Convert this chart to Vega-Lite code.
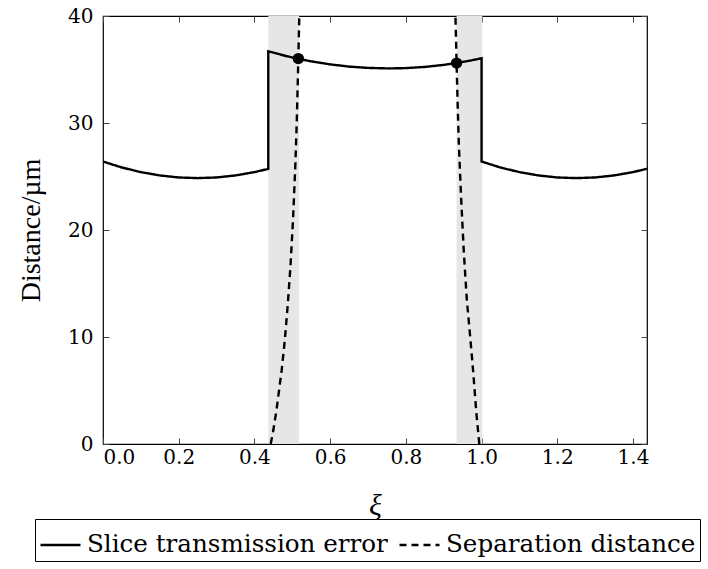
{
  "$schema": "https://vega.github.io/schema/vega-lite/v6.json",
  "width": 544,
  "height": 428,
  "autosize": {"type": "none"},
  "padding": {"left": 103, "top": 16, "right": 61, "bottom": 125},
  "background": "white",
  "config": {
    "view": {"stroke": "black", "strokeWidth": 1.2},
    "axis": {
      "grid": false,
      "domainColor": "black",
      "tickColor": "#444",
      "labelColor": "black",
      "titleColor": "black",
      "labelFontSize": 20,
      "titleFontSize": 28,
      "titleFontWeight": "normal"
    }
  },
  "datasets": {
    "bands": [
      {"a": 0.4366, "b": 0.518},
      {"a": 0.934, "b": 1.002}
    ],
    "curves": [
      {"i": 1, "g": "ste", "s": "Slice transmission error", "xi": 0.0, "d": 26.4},
      {"i": 2, "g": "ste", "s": "Slice transmission error", "xi": 0.05, "d": 25.84},
      {"i": 3, "g": "ste", "s": "Slice transmission error", "xi": 0.1, "d": 25.41},
      {"i": 4, "g": "ste", "s": "Slice transmission error", "xi": 0.15, "d": 25.1},
      {"i": 5, "g": "ste", "s": "Slice transmission error", "xi": 0.2, "d": 24.91},
      {"i": 6, "g": "ste", "s": "Slice transmission error", "xi": 0.25, "d": 24.85},
      {"i": 7, "g": "ste", "s": "Slice transmission error", "xi": 0.3, "d": 24.91},
      {"i": 8, "g": "ste", "s": "Slice transmission error", "xi": 0.35, "d": 25.1},
      {"i": 9, "g": "ste", "s": "Slice transmission error", "xi": 0.4, "d": 25.41},
      {"i": 10, "g": "ste", "s": "Slice transmission error", "xi": 0.4366, "d": 25.71},
      {"i": 11, "g": "ste", "s": "Slice transmission error", "xi": 0.4366, "d": 36.71},
      {"i": 12, "g": "ste", "s": "Slice transmission error", "xi": 0.48, "d": 36.29},
      {"i": 13, "g": "ste", "s": "Slice transmission error", "xi": 0.516, "d": 36.0},
      {"i": 14, "g": "ste", "s": "Slice transmission error", "xi": 0.55, "d": 35.76},
      {"i": 15, "g": "ste", "s": "Slice transmission error", "xi": 0.6, "d": 35.48},
      {"i": 16, "g": "ste", "s": "Slice transmission error", "xi": 0.65, "d": 35.27},
      {"i": 17, "g": "ste", "s": "Slice transmission error", "xi": 0.7, "d": 35.15},
      {"i": 18, "g": "ste", "s": "Slice transmission error", "xi": 0.755, "d": 35.1},
      {"i": 19, "g": "ste", "s": "Slice transmission error", "xi": 0.8, "d": 35.13},
      {"i": 20, "g": "ste", "s": "Slice transmission error", "xi": 0.85, "d": 35.24},
      {"i": 21, "g": "ste", "s": "Slice transmission error", "xi": 0.9, "d": 35.43},
      {"i": 22, "g": "ste", "s": "Slice transmission error", "xi": 0.934, "d": 35.61},
      {"i": 23, "g": "ste", "s": "Slice transmission error", "xi": 0.97, "d": 35.83},
      {"i": 24, "g": "ste", "s": "Slice transmission error", "xi": 1.0, "d": 36.05},
      {"i": 25, "g": "ste", "s": "Slice transmission error", "xi": 1.0, "d": 26.4},
      {"i": 26, "g": "ste", "s": "Slice transmission error", "xi": 1.05, "d": 25.84},
      {"i": 27, "g": "ste", "s": "Slice transmission error", "xi": 1.1, "d": 25.41},
      {"i": 28, "g": "ste", "s": "Slice transmission error", "xi": 1.15, "d": 25.1},
      {"i": 29, "g": "ste", "s": "Slice transmission error", "xi": 1.2, "d": 24.91},
      {"i": 30, "g": "ste", "s": "Slice transmission error", "xi": 1.25, "d": 24.85},
      {"i": 31, "g": "ste", "s": "Slice transmission error", "xi": 1.3, "d": 24.91},
      {"i": 32, "g": "ste", "s": "Slice transmission error", "xi": 1.35, "d": 25.1},
      {"i": 33, "g": "ste", "s": "Slice transmission error", "xi": 1.4, "d": 25.41},
      {"i": 34, "g": "ste", "s": "Slice transmission error", "xi": 1.437, "d": 25.72},
      {"i": 1, "g": "sd1", "s": "Separation distance", "xi": 0.443, "d": 0},
      {"i": 2, "g": "sd1", "s": "Separation distance", "xi": 0.45, "d": 1.3},
      {"i": 3, "g": "sd1", "s": "Separation distance", "xi": 0.458, "d": 3.1},
      {"i": 4, "g": "sd1", "s": "Separation distance", "xi": 0.465, "d": 5.0},
      {"i": 5, "g": "sd1", "s": "Separation distance", "xi": 0.472, "d": 6.9},
      {"i": 6, "g": "sd1", "s": "Separation distance", "xi": 0.48, "d": 9.6},
      {"i": 7, "g": "sd1", "s": "Separation distance", "xi": 0.488, "d": 13.0},
      {"i": 8, "g": "sd1", "s": "Separation distance", "xi": 0.495, "d": 16.5},
      {"i": 9, "g": "sd1", "s": "Separation distance", "xi": 0.502, "d": 21.0},
      {"i": 10, "g": "sd1", "s": "Separation distance", "xi": 0.508, "d": 26.0},
      {"i": 11, "g": "sd1", "s": "Separation distance", "xi": 0.512, "d": 30.3},
      {"i": 12, "g": "sd1", "s": "Separation distance", "xi": 0.516, "d": 36.0},
      {"i": 13, "g": "sd1", "s": "Separation distance", "xi": 0.5185, "d": 40.0},
      {"i": 1, "g": "sd2", "s": "Separation distance", "xi": 0.994, "d": 0},
      {"i": 2, "g": "sd2", "s": "Separation distance", "xi": 0.986, "d": 3.0},
      {"i": 3, "g": "sd2", "s": "Separation distance", "xi": 0.978, "d": 6.7},
      {"i": 4, "g": "sd2", "s": "Separation distance", "xi": 0.97, "d": 10.0},
      {"i": 5, "g": "sd2", "s": "Separation distance", "xi": 0.961, "d": 13.5},
      {"i": 6, "g": "sd2", "s": "Separation distance", "xi": 0.953, "d": 18.0},
      {"i": 7, "g": "sd2", "s": "Separation distance", "xi": 0.946, "d": 23.0},
      {"i": 8, "g": "sd2", "s": "Separation distance", "xi": 0.94, "d": 28.0},
      {"i": 9, "g": "sd2", "s": "Separation distance", "xi": 0.937, "d": 31.5},
      {"i": 10, "g": "sd2", "s": "Separation distance", "xi": 0.934, "d": 35.6},
      {"i": 11, "g": "sd2", "s": "Separation distance", "xi": 0.931, "d": 40.0}
    ],
    "dots": [
      {"xi": 0.516, "d": 36.02},
      {"xi": 0.934, "d": 35.6}
    ]
  },
  "layer": [
    {
      "data": {"name": "bands"},
      "mark": {"type": "rect", "color": "#e6e6e6"},
      "encoding": {
        "x": {
          "field": "a", "type": "quantitative",
          "scale": {"domain": [0, 1.437], "nice": false, "zero": false},
          "axis": {
            "orient": "bottom", "title": "ξ", "titleFontStyle": "italic",
            "titleFont": "Liberation Serif",
            "titleFontSize": 30, "titlePadding": 23,
            "values": [0, 0.2, 0.4, 0.6, 0.8, 1.0, 1.2, 1.4],
            "format": ".1f", "tickSize": -6, "labelPadding": 9,
            "labelFont": "DejaVu Serif", "domain": false
          }
        },
        "x2": {"field": "b"},
        "y": {
          "datum": 0, "type": "quantitative",
          "scale": {"domain": [0, 40], "nice": false},
          "axis": {
            "orient": "left", "title": "Distance/µm", "titleFontSize": 28,
            "titleFont": "Liberation Serif",
            "values": [0, 10, 20, 30, 40], "tickSize": -6, "labelPadding": 16,
            "labelFont": "DejaVu Serif", "titlePadding": 22, "domain": false
          }
        },
        "y2": {"datum": 40}
      }
    },
    {
      "data": {"name": "curves"},
      "mark": {"type": "line", "strokeWidth": 2.4, "color": "black", "clip": true},
      "encoding": {
        "x": {
          "field": "xi", "type": "quantitative",
          "axis": {"orient": "top", "labels": false, "title": null, "values": [0, 0.2, 0.4, 0.6, 0.8, 1.0, 1.2, 1.4], "tickSize": -6, "domain": false}
        },
        "y": {
          "field": "d", "type": "quantitative",
          "axis": {"orient": "right", "labels": false, "title": null, "values": [0, 10, 20, 30, 40], "tickSize": -6, "domain": false}
        },
        "detail": {"field": "g"},
        "order": {"field": "i", "type": "quantitative"},
        "strokeDash": {
          "field": "s", "type": "nominal",
          "scale": {"domain": ["Slice transmission error", "Separation distance"], "range": [[1, 0], [7, 5]]},
          "legend": {
            "title": null, "orient": "none", "legendX": -68, "legendY": 503,
            "direction": "horizontal", "strokeColor": "black", "fillColor": "white",
            "padding": 4, "cornerRadius": 0, "symbolType": "stroke",
            "symbolSize": 1600, "symbolStrokeWidth": 2.4, "symbolStrokeColor": "black",
            "labelFont": "DejaVu Serif", "labelFontSize": 24.6, "labelColor": "black",
            "labelLimit": 500, "labelOffset": 5, "columnPadding": 6
          }
        }
      }
    },
    {
      "data": {"name": "dots"},
      "mark": {"type": "point", "filled": true, "color": "black", "opacity": 1, "size": 130},
      "encoding": {
        "x": {"field": "xi", "type": "quantitative", "axis": null},
        "y": {"field": "d", "type": "quantitative", "axis": null}
      }
    }
  ],
  "resolve": {"axis": {"x": "independent", "y": "independent"}}
}
